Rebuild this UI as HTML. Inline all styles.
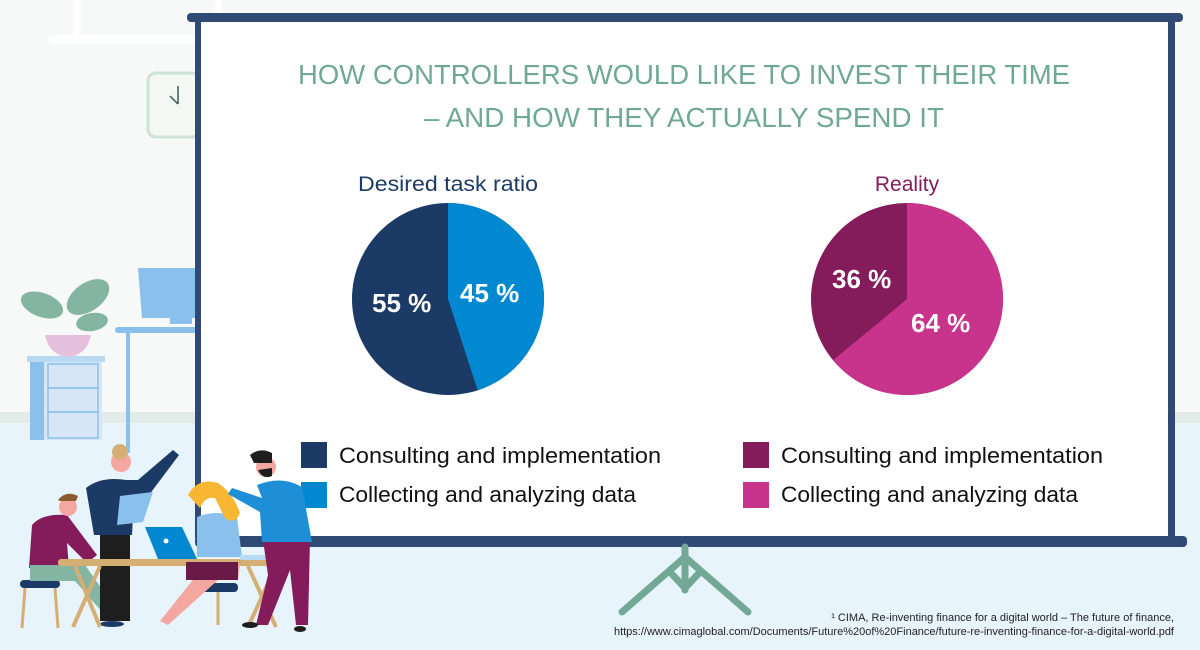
<!DOCTYPE html>
<html><head><meta charset="utf-8"><style>
html,body{margin:0;padding:0}
body{width:1200px;height:650px;overflow:hidden;font-family:"Liberation Sans","DejaVu Sans",sans-serif;position:relative}
</style></head><body>
<svg width="1200" height="650" viewBox="0 0 1200 650" style="position:absolute;left:0;top:0">
<rect x="0" y="0" width="1200" height="415" fill="#f6f9f7"/>
<rect x="0" y="412" width="1200" height="11" fill="#e3ebe8"/>
<rect x="0" y="423" width="1200" height="227" fill="#e8f4fc"/>
<rect x="48" y="35" width="160" height="9" rx="4" fill="#ffffff"/>
<rect x="73" y="0" width="8" height="38" fill="#ffffff"/>
<rect x="215" y="0" width="7" height="14" fill="#ffffff"/>
<!-- clock -->
<rect x="148" y="73" width="52" height="64" rx="8" fill="#f3f8f5" stroke="#cfe2d9" stroke-width="3"/>
<line x1="178" y1="86" x2="178" y2="104" stroke="#3a5a56" stroke-width="1.5"/>
<line x1="170" y1="96" x2="178" y2="104" stroke="#3a5a56" stroke-width="1.5"/>
<!-- desk & monitor -->
<polygon points="138,268 198,268 198,318 142,318" fill="#8ac1ec"/>
<rect x="170" y="318" width="22" height="6" fill="#8ac1ec"/>
<rect x="115" y="327" width="85" height="6" rx="3" fill="#8ac1ec"/>
<rect x="126" y="333" width="4" height="120" fill="#8ac1ec"/>
<!-- cabinet -->
<rect x="30" y="358" width="72" height="82" fill="#d7e6f7"/>
<rect x="30" y="360" width="14" height="80" fill="#8ac1ec"/>
<rect x="27" y="356" width="78" height="6" fill="#b9d8f2"/>
<g stroke="#8ac1ec" stroke-width="1.5" fill="none"><rect x="48" y="364" width="50" height="24"/><rect x="48" y="388" width="50" height="24"/><rect x="48" y="412" width="50" height="26"/></g>
<!-- plant -->
<path d="M45 335 h46 q-4 20 -23 22 q-19 -2 -23 -22z" fill="#e4c0dc"/>
<ellipse cx="42" cy="305" rx="22" ry="12" fill="#84b4a2" transform="rotate(20 42 305)"/>
<ellipse cx="88" cy="297" rx="24" ry="14" fill="#84b4a2" transform="rotate(-35 88 297)"/>
<ellipse cx="92" cy="322" rx="16" ry="9" fill="#84b4a2" transform="rotate(-10 92 322)"/>
<!-- screen -->
<rect x="200" y="20" width="970" height="518" fill="#ffffff"/>
<rect x="187" y="13" width="996" height="9" rx="4" fill="#2f4a74"/>
<rect x="195" y="20" width="6" height="518" fill="#2f4a74"/>
<rect x="1168" y="20" width="7" height="518" fill="#2f4a74"/>
<rect x="195" y="536" width="992" height="11" rx="4" fill="#2f4a74"/>
<!-- stand -->
<g stroke="#72a895" stroke-width="7" stroke-linecap="round" fill="none">
<line x1="685" y1="547" x2="685" y2="590"/>
<line x1="685" y1="557" x2="622" y2="612"/>
<line x1="685" y1="557" x2="748" y2="612"/>
<line x1="670" y1="572" x2="685" y2="588"/><line x1="700" y1="572" x2="685" y2="588"/>
</g>
<!-- titles -->
<text x="298" y="84" textLength="772" lengthAdjust="spacingAndGlyphs" font-size="28" fill="#6fa896">HOW CONTROLLERS WOULD LIKE TO INVEST THEIR TIME</text>
<text x="424" y="127" textLength="520" lengthAdjust="spacingAndGlyphs" font-size="28" fill="#6fa896">– AND HOW THEY ACTUALLY SPEND IT</text>
<text x="358" y="191" textLength="180" lengthAdjust="spacingAndGlyphs" font-size="21" fill="#1b3a65">Desired task ratio</text>
<text x="907" y="191" text-anchor="middle" font-size="21" fill="#841b5a">Reality</text>
<!-- pies -->
<circle cx="448" cy="299" r="96" fill="#1b3a65"/>
<path d="M448 299 L448 203 A96 96 0 0 1 477.7 390.3 Z" fill="#0288d1"/>
<circle cx="907" cy="299" r="96" fill="#841b5a"/>
<path d="M907 299 L907 203 A96 96 0 1 1 833.1 360.2 Z" fill="#c8338c"/>
<g font-size="26" font-weight="bold" fill="#ffffff">
<text x="372" y="312">55 %</text><text x="460" y="302">45 %</text>
<text x="832" y="288">36 %</text><text x="911" y="332">64 %</text>
</g>
<!-- legend -->
<rect x="301" y="442" width="26" height="26" fill="#1b3a65"/>
<rect x="301" y="482" width="26" height="26" fill="#0288d1"/>
<rect x="743" y="442" width="26" height="26" fill="#841b5a"/>
<rect x="743" y="482" width="26" height="26" fill="#c8338c"/>
<g font-size="22" fill="#111">
<text x="339" y="463" textLength="322" lengthAdjust="spacingAndGlyphs">Consulting and implementation</text>
<text x="339" y="502" textLength="297" lengthAdjust="spacingAndGlyphs">Collecting and analyzing data</text>
<text x="781" y="463" textLength="322" lengthAdjust="spacingAndGlyphs">Consulting and implementation</text>
<text x="781" y="502" textLength="297" lengthAdjust="spacingAndGlyphs">Collecting and analyzing data</text>
</g>
<text x="1174" y="621" text-anchor="end" font-size="11" fill="#222">¹ CIMA, Re-inventing finance for a digital world – The future of finance,</text>
<text x="1174" y="635" text-anchor="end" font-size="11" fill="#222">https://www.cimaglobal.com/Documents/Future%20of%20Finance/future-re-inventing-finance-for-a-digital-world.pdf</text>
<!-- people -->
<rect x="20" y="580" width="40" height="8" rx="4" fill="#1b3a65"/>
<g stroke="#d5ae74" stroke-width="3"><line x1="25" y1="588" x2="22" y2="628"/><line x1="55" y1="588" x2="58" y2="628"/><line x1="218" y1="592" x2="218" y2="625"/></g>
<rect x="200" y="583" width="38" height="9" rx="4" fill="#1b3a65"/>
<path d="M32 525 q10 -12 35 -10 l30 40 l-10 8 l-20 -20 l2 25 h-40z" fill="#841b5a"/>
<path d="M30 565 h55 l35 50 l-10 6 l-35 -40 h-45z" fill="#84b4a2"/>
<circle cx="68" cy="507" r="9" fill="#f4a7a0"/>
<path d="M58 500 q8 -10 20 -4 l-2 5 h-16z" fill="#8c5a2e"/>
<rect x="100" y="535" width="30" height="86" fill="#1e1e1e"/>
<path d="M86 488 q15 -12 40 -8 l12 0 l35 -30 l6 5 l-30 40 h-15 l-2 40 h-38 z" fill="#1b3a65"/>
<circle cx="121" cy="462" r="10" fill="#f4a7a0"/>
<circle cx="120" cy="452" r="8" fill="#d5ae74"/>
<polygon points="120,496 153,492 143,522 117,525" fill="#8ac1ec"/>
<ellipse cx="112" cy="624" rx="12" ry="3" fill="#1b3a65"/>
<rect x="58" y="559" width="228" height="7" rx="3" fill="#d5ae74"/>
<g stroke="#d5ae74" stroke-width="4"><line x1="75" y1="566" x2="100" y2="627"/><line x1="100" y1="566" x2="73" y2="627"/><line x1="248" y1="566" x2="276" y2="627"/><line x1="276" y1="566" x2="248" y2="627"/></g>
<polygon points="145,527 182,527 197,559 158,559" fill="#0288d1"/>
<circle cx="166" cy="541" r="2.5" fill="#fff"/>
<path d="M190 565 h50 l-2 15 h-20 l-50 45 l-8 -4 l40 -50 z" fill="#f4a7a0"/>
<path d="M186 562 h52 v18 h-52z" fill="#6a1a47"/>
<path d="M197 517 q20 -8 40 0 l5 40 h-45z" fill="#8ac1ec"/>
<path d="M188 495 q10 -18 30 -12 q15 10 22 30 q-5 12 -15 5 l-10 -20 q-10 -2 -15 10 z" fill="#f7b733"/>
<rect x="240" y="555" width="45" height="5" fill="#b9d8f2"/>
<path d="M263 540 h47 l-2 85 h-12 l-6 -55 l-22 55 h-12 l12 -50z" fill="#841b5a"/>
<path d="M257 485 q25 -10 45 2 l10 55 h-50 l-2 -30 l-32 -18 l4 -6 l30 10z" fill="#1e8fd6"/>
<circle cx="266" cy="467" r="10" fill="#f4a7a0"/>
<path d="M250 455 q10 -8 22 -2 v10 h-18z" fill="#1e1e1e"/>
<path d="M258 470 q5 10 14 6 v-8z" fill="#1e1e1e"/>
<ellipse cx="300" cy="629" rx="6" ry="3" fill="#1e1e1e"/>
<ellipse cx="250" cy="625" rx="8" ry="3" fill="#1e1e1e"/>
</svg>
</body></html>
